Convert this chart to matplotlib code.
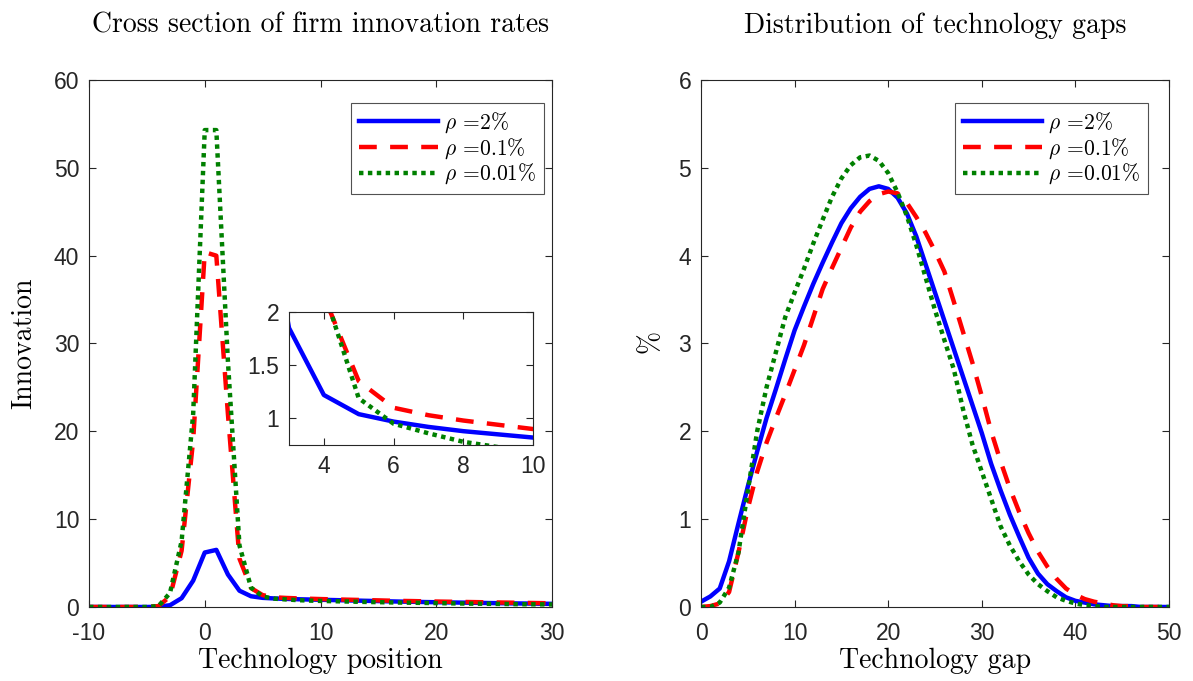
import matplotlib.pyplot as plt

# firm innovation rates by technology position
pos = list(range(-10, 31))
innov_2 = [0, 0, 0, 0, 0, 0, 0.02, 0.2, 1.0, 3.0, 6.2, 6.5, 3.7, 1.85, 1.22, 1.04,
           0.97, 0.92, 0.88, 0.85, 0.82, 0.79, 0.76, 0.73, 0.70, 0.67, 0.64, 0.61,
           0.59, 0.56, 0.54, 0.52, 0.50, 0.48, 0.46, 0.44, 0.42, 0.40, 0.39, 0.37, 0.36]
innov_01 = [0, 0, 0, 0, 0, 0, 0.1, 1.2, 6.4, 19.0, 40.4, 40.0, 22.0, 5.5, 2.15, 1.35,
            1.1, 1.03, 0.98, 0.94, 0.9, 0.87, 0.84, 0.81, 0.78, 0.75, 0.72, 0.69,
            0.67, 0.64, 0.62, 0.60, 0.58, 0.56, 0.54, 0.52, 0.50, 0.48, 0.46, 0.44, 0.42]
innov_001 = [0, 0, 0, 0, 0, 0, 0.1, 1.6, 7.5, 22.0, 54.3, 54.3, 28.0, 7.0, 2.2, 1.19,
             0.95, 0.86, 0.78, 0.73, 0.69, 0.66, 0.63, 0.60, 0.57, 0.55, 0.52, 0.50,
             0.48, 0.46, 0.44, 0.42, 0.40, 0.38, 0.37, 0.35, 0.34, 0.32, 0.31, 0.30, 0.29]

# distribution of technology gaps (%)
gap = list(range(0, 51))
dist_2 = [0.06, 0.12, 0.21, 0.52, 0.95, 1.37, 1.77, 2.15, 2.48, 2.82, 3.15, 3.42, 3.68,
          3.92, 4.15, 4.37, 4.54, 4.67, 4.76, 4.79, 4.76, 4.66, 4.48, 4.22, 3.9,
          3.58, 3.26, 2.94, 2.62, 2.3, 1.98, 1.63, 1.33, 1.05, 0.8, 0.56, 0.38,
          0.26, 0.18, 0.11, 0.07, 0.05, 0.03, 0.02, 0.01, 0.01, 0.01, 0, 0, 0, 0]
dist_01 = [0.0, 0.01, 0.04, 0.17, 0.62, 1.12, 1.54, 1.87, 2.15, 2.42, 2.7, 2.98, 3.3,
           3.62, 3.86, 4.09, 4.32, 4.5, 4.62, 4.70, 4.73, 4.71, 4.6, 4.44, 4.26,
           4.05, 3.82, 3.48, 3.13, 2.78, 2.4, 2.0, 1.66, 1.35, 1.08, 0.84, 0.63,
           0.46, 0.32, 0.21, 0.14, 0.09, 0.06, 0.04, 0.02, 0.01, 0.01, 0, 0, 0, 0]
dist_001 = [0.0, 0.0, 0.05, 0.22, 0.62, 1.32, 2.0, 2.5, 2.9, 3.3, 3.58, 3.85, 4.14,
            4.41, 4.67, 4.88, 5.03, 5.12, 5.14, 5.08, 4.94, 4.72, 4.45, 4.12, 3.75,
            3.38, 3.04, 2.71, 2.25, 1.85, 1.54, 1.23, 0.92, 0.7, 0.52, 0.37, 0.26,
            0.18, 0.11, 0.07, 0.04, 0.02, 0.01, 0, 0, 0, 0, 0, 0, 0, 0]

labels = [r'$\rho\, =\!2\%$', r'$\rho\, =\!0.1\%$', r'$\rho\, =\!0.01\%\hspace{0.6}\/$']

plt.rcParams['mathtext.fontset'] = 'cm'
plt.rcParams['font.family'] = 'Liberation Sans'
plt.rcParams['axes.unicode_minus'] = False
serif = 'cmr10'

styles = [dict(color=(0, 0, 1), ls='-'),
          dict(color=(1, 0, 0), ls=(0, (4, 3))),
          dict(color=(0, 0.5, 0), ls=(0, (1, 1)))]
LW = 3.2
TICK = 16.5
LAB = 20


def boxify(ax):
    ax.tick_params(direction='in', top=True, right=True, labelsize=TICK,
                   length=5, color='0.15', labelcolor='0.15', pad=7)
    ax.tick_params(axis='x', pad=11)
    for s in ax.spines.values():
        s.set_color('0.15')
        s.set_linewidth(0.8)


def add_legend(ax, x_right, y_top):
    leg = ax.legend(loc='upper right', bbox_to_anchor=(x_right, y_top),
                    bbox_transform=fig.transFigure, borderaxespad=0,
                    fontsize=15.5, frameon=True, fancybox=False, edgecolor='0.15',
                    handlelength=3.67, handletextpad=0.3, labelspacing=0.05,
                    borderpad=0.35)
    leg.get_frame().set_linewidth(0.8)


fig = plt.figure(figsize=(11.93, 6.81), dpi=100)

# left panel
ax1 = fig.add_axes([89 / 1193, 0.1087, 463 / 1193, 0.7738])
for ys, st, lab in zip([innov_2, innov_01, innov_001], styles, labels):
    ax1.plot(pos, ys, lw=LW, label=lab, **st)
ax1.set_xlim(-10, 30)
ax1.set_ylim(0, 60)
ax1.set_xticks([-10, 0, 10, 20, 30])
boxify(ax1)
ax1.set_title('Cross section of firm innovation rates', family=serif, fontsize=LAB, pad=34)
ax1.set_xlabel('Technology position', family=serif, fontsize=LAB, labelpad=2)
ax1.set_ylabel('Innovation', family=serif, fontsize=LAB, labelpad=12)
add_legend(ax1, 544 / 1193, 1 - 103 / 681)

# inset zoom
axin = fig.add_axes([289 / 1193, 1 - 445 / 681, 244 / 1193, 133 / 681])
for ys, st in zip([innov_2, innov_01, innov_001], styles):
    axin.plot(pos, ys, lw=LW, **st)
axin.set_xlim(3, 10)
axin.set_ylim(0.75, 2)
axin.set_xticks([4, 6, 8, 10])
axin.set_yticks([1, 1.5, 2])
axin.set_yticklabels(['1', '1.5', '2'])
boxify(axin)
axin.tick_params(axis='x', pad=7)

# right panel
ax2 = fig.add_axes([701 / 1193, 0.1087, 468 / 1193, 0.7738])
for ys, st, lab in zip([dist_2, dist_01, dist_001], styles, labels):
    ax2.plot(gap, ys, lw=LW, label=lab, **st)
ax2.set_xlim(0, 50)
ax2.set_ylim(0, 6)
boxify(ax2)
ax2.set_title('Distribution of technology gaps', family=serif, fontsize=LAB, pad=34)
ax2.set_xlabel('Technology gap', family=serif, fontsize=LAB, labelpad=2)
ax2.set_ylabel(r'$\%$', fontsize=LAB, labelpad=10)
add_legend(ax2, 1148 / 1193, 1 - 103 / 681)

fig.savefig('out.png', dpi=100)
